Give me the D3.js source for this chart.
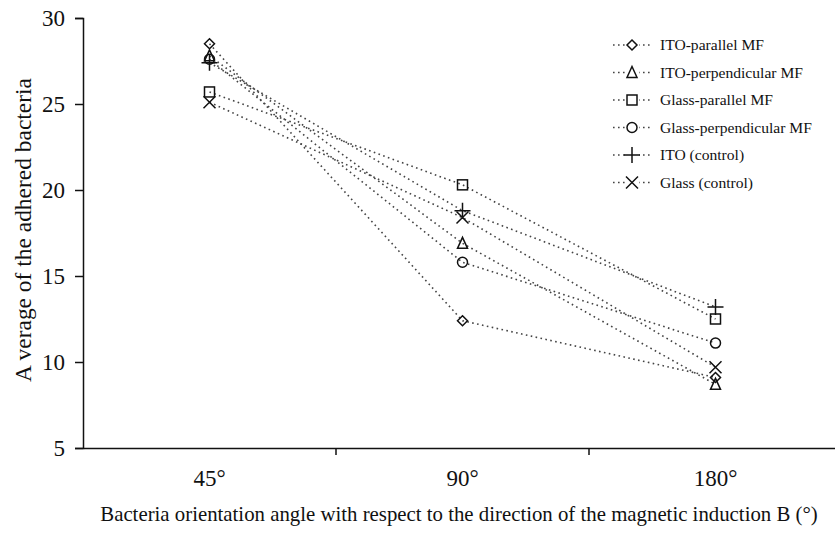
<!DOCTYPE html>
<html>
<head>
  <meta charset="UTF-8">
  <script src="https://d3js.org/d3.v7.min.js"></script>
  <style>
    body { margin: 0; background: #fff; }
    svg, svg text { font-family: "Times New Roman", "Liberation Serif", serif !important; }
  </style>
</head>
<body>
  <svg></svg>
  <script>
    // chart values
    let angles = ["45°", "90°", "180°"];
    let seriesNames = ["ITO-parallel MF", "ITO-perpendicular MF", "Glass-parallel MF",
      "Glass-perpendicular MF", "ITO (control)", "Glass (control)"];
    let itoParallel = [28.5, 12.4, 9.1];
    let itoPerpendicular = [27.8, 16.9, 8.7];
    let glassParallel = [25.7, 20.3, 12.5];
    let glassPerpendicular = [27.6, 15.8, 11.1];
    let itoControl = [27.4, 18.8, 13.2];
    let glassControl = [25.1, 18.4, 9.7];
    let yTicks = [5, 10, 15, 20, 25, 30];

    let series = [itoParallel, itoPerpendicular, glassParallel, glassPerpendicular, itoControl, glassControl];
    let symbols = ["diamond", "triangle", "square", "circle", "plus", "cross"];

    let serif = "Times New Roman, Liberation Serif, serif";
    let width = 835, height = 535;
    let svg = d3.select("svg").attr("width", width).attr("height", height);

    // scale a text's font so it takes the given width
    function fit(sel, w) {
      let size = parseFloat(sel.style("font-size"));
      let len = sel.node().getComputedTextLength();
      sel.style("font-size", (size * w / len) + "px");
    }

    let x = d3.scaleBand().domain(angles).range([83, 842]);
    let y = d3.scaleLinear().domain([5, 30]).range([448, 18]);

    // axes
    let yAxis = svg.append("g")
      .attr("transform", "translate(83,0)")
      .call(d3.axisLeft(y).tickValues(yTicks).tickSize(8).tickPadding(10));

    let xAxis = svg.append("g")
      .attr("transform", "translate(0,448)")
      .call(d3.axisBottom(x).tickSize(0).tickPadding(22));
    // tick marks between categories
    xAxis.selectAll(".sep")
      .data(angles.slice(1))
      .enter().append("line")
      .attr("x1", d => x(d)).attr("x2", d => x(d))
      .attr("y1", 0).attr("y2", 7)
      .attr("stroke", "#111").attr("stroke-width", 1.5);

    [xAxis, yAxis].forEach(a => {
      a.attr("font-family", serif).attr("font-size", 23);
      a.selectAll("text").attr("font-family", serif).attr("fill", "#111");
    });
    svg.selectAll(".domain").attr("stroke", "#111").attr("stroke-width", 1.5);
    svg.selectAll(".tick line").attr("stroke", "#111").attr("stroke-width", 1.5);

    let xLabel = svg.append("text")
      .attr("x", 459).attr("y", 521)
      .attr("text-anchor", "middle")
      .attr("fill", "#111")
      .style("font-size", "18px")
      .text("Bacteria orientation angle with respect to the direction of the magnetic induction B (°)");
    fit(xLabel, 718);

    let yLabel = svg.append("text")
      .attr("transform", "translate(31,230) rotate(-90)")
      .attr("text-anchor", "middle")
      .attr("fill", "#111")
      .style("font-size", "19px")
      .text("A verage of the adhered bacteria");
    fit(yLabel, 304);

    function drawMarker(g, type, cx, cy) {
      let s = 5;
      let el;
      if (type == "diamond") {
        el = g.append("path").attr("d", `M${cx},${cy - s}L${cx + s},${cy}L${cx},${cy + s}L${cx - s},${cy}Z`);
      } else if (type == "triangle") {
        el = g.append("path").attr("d", `M${cx},${cy - s - 1}L${cx + s},${cy + s}L${cx - s},${cy + s}Z`);
      } else if (type == "square") {
        el = g.append("rect").attr("x", cx - s).attr("y", cy - s).attr("width", 2 * s).attr("height", 2 * s);
      } else if (type == "circle") {
        el = g.append("circle").attr("cx", cx).attr("cy", cy).attr("r", s);
      } else if (type == "plus") {
        el = g.append("path").attr("d", `M${cx - 8},${cy}H${cx + 8}M${cx},${cy - 8}V${cy + 8}`);
      } else {
        el = g.append("path").attr("d", `M${cx - 6},${cy - 6}L${cx + 6},${cy + 6}M${cx + 6},${cy - 6}L${cx - 6},${cy + 6}`);
      }
      el.attr("stroke", "#111").attr("stroke-width", 1.5).attr("fill", "none");
    }

    let line = d3.line()
      .x((d, i) => x(angles[i]) + x.bandwidth() / 2)
      .y(d => y(d));

    series.forEach((vals, si) => {
      svg.append("path")
        .attr("d", line(vals))
        .attr("fill", "none")
        .attr("stroke", "#444")
        .attr("stroke-width", 1.6)
        .attr("stroke-dasharray", "1.6,3.4");
      let g = svg.append("g");
      vals.forEach((v, i) => drawMarker(g, symbols[si], x(angles[i]) + x.bandwidth() / 2, y(v)));
    });

    // legend
    let legend = svg.append("g").attr("transform", "translate(613,45)");
    let legendTexts = [];
    seriesNames.forEach((name, i) => {
      let ly = i * 27.5;
      legend.append("line")
        .attr("x1", 0).attr("x2", 37).attr("y1", ly).attr("y2", ly)
        .attr("stroke", "#444").attr("stroke-width", 1.6)
        .attr("stroke-dasharray", "1.6,3.4");
      let mg = legend.append("g");
      mg.append("rect").attr("x", 12).attr("y", ly - 7).attr("width", 14).attr("height", 14).attr("fill", "#fff");
      drawMarker(mg, symbols[i], 19, ly);
      legendTexts.push(legend.append("text")
        .attr("x", 47).attr("y", ly + 5)
        .attr("fill", "#111")
        .style("font-size", "15px")
        .text(name));
    });
    // size the legend font from its longest entry
    let longest = legendTexts[3];
    fit(longest, 152);
    legendTexts.forEach(t => t.style("font-size", longest.style("font-size")));
  </script>
</body>
</html>
